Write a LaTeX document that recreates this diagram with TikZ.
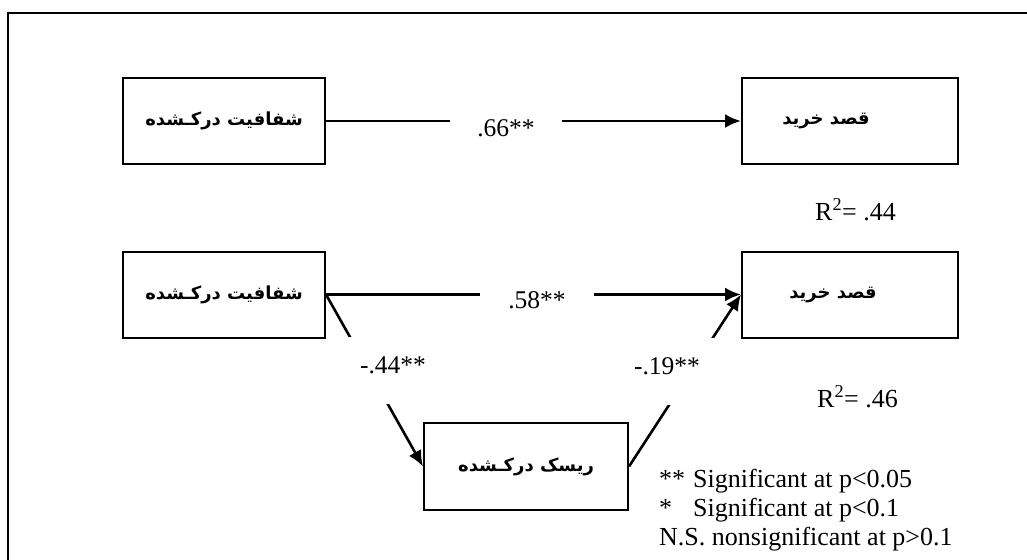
\documentclass[tikz,border=0pt]{standalone}
\usepackage{fontspec}
\setmainfont{Liberation Serif}
\newfontfamily\arabicfont[Script=Arabic]{DejaVu Sans}
\TeXXeTstate=1
\usetikzlibrary{arrows.meta}
\tikzset{>={Latex[length=16pt,width=14pt]}}
\newcommand{\rtltext}[1]{\beginR #1\endR}

\begin{document}
\begin{tikzpicture}[x=1pt,y=-1pt,
  box/.style={draw, line width=2pt, minimum height=86pt, inner sep=0pt,
    font=\arabicfont\bfseries\fontsize{18}{22}\selectfont},
  link/.style={line width=2.6pt},
  coef/.style={fill=white, anchor=base, inner ysep=3pt, inner xsep=27pt,
    font=\fontsize{25.5}{28}\selectfont},
  diag/.style={coef, text height=18pt, text depth=13pt, inner ysep=18pt, inner xsep=14pt},
  txt/.style={anchor=base west, inner sep=0pt, font=\fontsize{26}{30}\selectfont}]
\useasboundingbox (0,0) rectangle (1027,559);
  % frame
  \draw[line width=1.6pt] (8,570) -- (8,13) -- (1040,13);

  % total effect
  \node[box, minimum width=202pt] (trans1) at (224,121) {\rtltext{شفافیت درکـشده}};
  \node[box, minimum width=216pt] (intent1) at (850,121) {\rtltext{قصد خرید}\hspace*{48pt}};
  \draw[link,->] (trans1.east) -- (intent1.west);
  \node[coef] (c66) at (506,136) {.66**};
  \node[txt] (r44) at (815,220) {R\textsuperscript{2}= .44};

  % mediation model
  \node[box, minimum width=202pt] (trans2) at (224,294.5) {\rtltext{شفافیت درکـشده}};
  \node[box, minimum width=216pt] (intent2) at (850,294.5) {\rtltext{قصد خرید}\hspace*{34pt}};
  \node[box, minimum width=204pt, minimum height=87pt] (risk) at (526,466.5) {\rtltext{ریسک درکـشده}};
  \draw[link,->] (trans2.east) -- (intent2.west);
  \draw[link,->] (trans2.east) -- (risk.west);
  \draw[link,->] (risk.east) -- (intent2.west);
  \node[coef, inner xsep=28pt] (c58) at (537,308) {.58**};
  \node[diag] (c44) at (393,373) {-.44**};
  \node[diag, inner xsep=16pt] (c19) at (667,374) {-.19**};
  \node[txt] (r46) at (817,407) {R\textsuperscript{2}= .46};

  % legend
  \node[txt] (leg1) at (659,487) {\makebox[34pt][l]{**}Significant at p<0.05};
  \node[txt] (leg2) at (659,516) {\makebox[34pt][l]{*}Significant at p<0.1};
  \node[txt] (leg3) at (659,545) {N.S. nonsignificant at p>0.1};
\end{tikzpicture}
\end{document}
